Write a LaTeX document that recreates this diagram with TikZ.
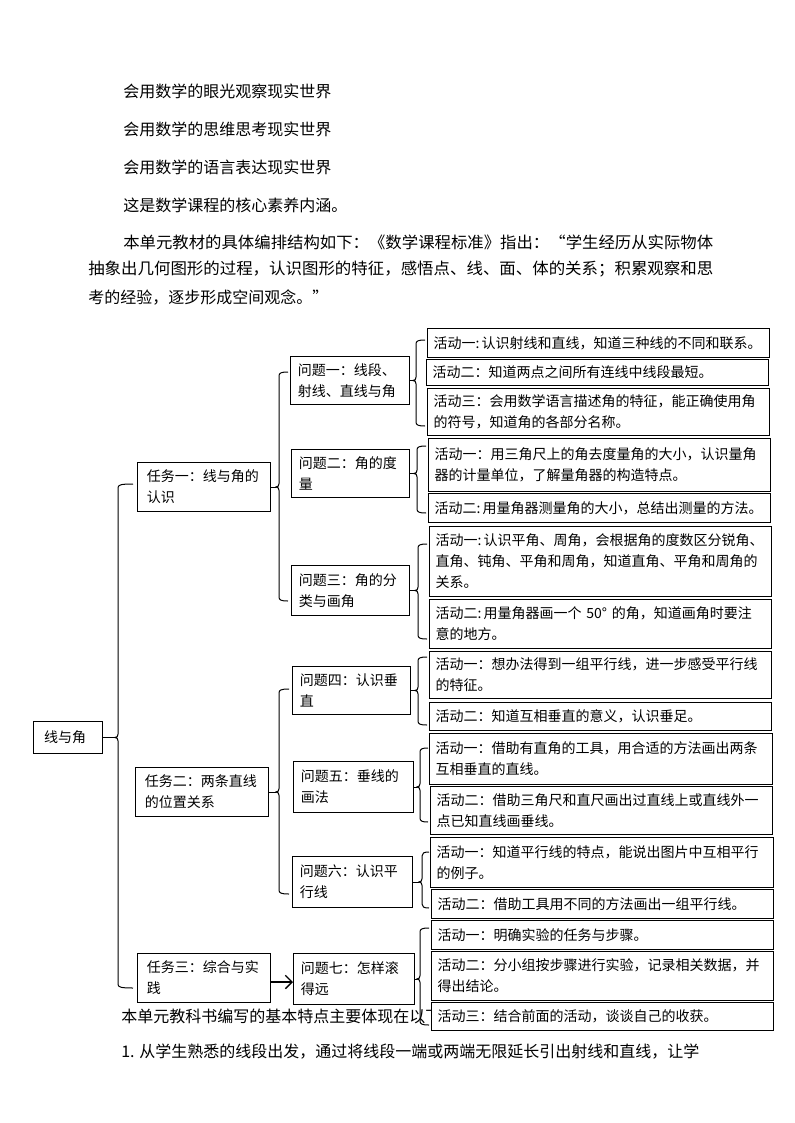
\documentclass[tikz,border=0pt]{standalone}
\usepackage{fontspec}
\setmainfont{Noto Sans CJK SC}
\usepackage{graphicx}
\usetikzlibrary{arrows.meta}
\tikzset{
  box/.style={draw=black, line width=0.75pt, fill=white, anchor=north west, align=left, inner ysep=0pt, font=\fontsize{10.5pt}{15.75pt}\selectfont},
  body/.style={anchor=west, inner sep=0pt, font=\fontsize{12pt}{18pt}\selectfont},
  brkline/.style={line width=0.75pt, line join=round},
  bigarrow/.style={line width=1.6pt, -{Straight Barb[length=5pt,width=10pt,line width=1pt]}},
}
\newcommand\nbox[7][4.5]{%
  \pgfmathsetmacro\nboxw{0.75*(#5-#3)-2*#1}%
  \pgfmathsetmacro\nboxh{0.75*(#6-#4)}%
  \node[box, inner xsep=#1pt, text width=\nboxw pt, minimum height=\nboxh pt] (#2) at (#3,#4) {#7};%
}
\newcommand\nbrace[5]{% parent, x, top, bottom, end x
  \coordinate (bkx) at (#2,0);
  \coordinate (bkm) at (#1.east -| bkx);
  \draw[brkline] (#5,#3) .. controls (#2+2,#3) and (#2,#3+1) .. (#2,#3+4)
    -- ([yshift=2.5pt]bkm) .. controls ([yshift=0.8pt]bkm) and ([xshift=-0.8pt]bkm) .. ([xshift=-2.5pt]bkm)
    .. controls ([xshift=-0.8pt]bkm) and ([yshift=-0.8pt]bkm) .. ([yshift=-2.5pt]bkm)
    -- (#2,#4-4) .. controls (#2,#4-1) and (#2+2,#4) .. (#5,#4);
  \draw[brkline] (#1.east) -- ([xshift=-2.5pt]bkm);
}
\begin{document}
\begin{tikzpicture}[x=0.75pt,y=-0.75pt]
\useasboundingbox[fill=white] (0,0) rectangle (794,1123);
% body text
\node[body] (l1) at (123,91) {会用数学的眼光观察现实世界};
\node[body] (l2) at (123,129) {会用数学的思维思考现实世界};
\node[body] (l3) at (123,167) {会用数学的语言表达现实世界};
\node[body] (l4) at (123,205) {这是数学课程的核心素养内涵。};
\node[body] (l5) at (123,242) {\resizebox{442.5pt}{\height}{本单元教材的具体编排结构如下：《数学课程标准》指出：“学生经历从实际物体}};
\node[body] (l6) at (88,269) {\resizebox{468.75pt}{\height}{抽象出几何图形的过程，认识图形的特征，感悟点、线、面、体的关系；积累观察和思}};
\node[body] (l7) at (88,297) {考的经验，逐步形成空间观念。”};
\node[body] (l8) at (121,1016) {本单元教科书编写的基本特点主要体现在以下};
\node[body] (l9) at (121,1052) {1. 从学生熟悉的线段出发，通过将线段一端或两端无限延长引出射线和直线，让学};
% root and tasks
\nbox[8]{root}{33}{721}{102}{753}{线与角}
\nbox[7]{t1}{137}{462}{270}{511}{任务一：线与角的\\认识}
\nbox[7]{t2}{135}{767}{268}{816}{任务二：两条直线\\的位置关系}
\nbox[7]{t3}{137}{953}{270}{1002}{任务三：综合与实\\践}
% questions
\nbox[5.5]{q1}{290}{356}{409}{404}{问题一：线段、\\射线、直线与角}
\nbox[5.5]{q2}{291}{449}{409}{497}{问题二：角的度\\量}
\nbox[5.5]{q3}{291}{565}{409}{615}{问题三：角的分\\类与画角}
\nbox[5.5]{q4}{292}{666}{410}{714}{问题四：认识垂\\直}
\nbox[5.5]{q5}{293}{761}{413}{812}{问题五：垂线的\\画法}
\nbox[5.5]{q6}{292}{856}{412}{907}{问题六：认识平\\行线}
\nbox[5.5]{q7}{293}{953}{414}{1004}{问题七：怎样滚\\得远}
% activities
\nbox{a11}{427}{328}{769}{357}{活动一:\,认识射线和直线，知道三种线的不同和联系。}
\nbox{a12}{426}{359}{768}{385}{活动二：知道两点之间所有连线中线段最短。}
\nbox{a13}{427}{388}{769}{435}{活动三：会用数学语言描述角的特征，能正确使用角\\的符号，知道角的各部分名称。}
\nbox{a21}{428}{438}{770}{491}{活动一：用三角尺上的角去度量角的大小，认识量角\\器的计量单位，了解量角器的构造特点。}
\nbox{a22}{428}{493}{770}{522}{活动二:\,用量角器测量角的大小，总结出测量的方法。}
\nbox{a31}{429}{526}{771}{596}{活动一:\,认识平角、周角，会根据角的度数区分锐角、\\直角、钝角、平角和周角，知道直角、平角和周角的\\关系。}
\nbox{a32}{429}{599}{771}{648}{活动二:\,用量角器画一个 50°\ 的角，知道画角时要注\\意的地方。}
\nbox{a41}{429}{651}{771}{698}{活动一：想办法得到一组平行线，进一步感受平行线\\的特征。}
\nbox{a42}{429}{702}{771}{730}{活动二：知道互相垂直的意义，认识垂足。}
\nbox{a51}{429}{733}{772}{784}{活动一：借助有直角的工具，用合适的方法画出两条\\互相垂直的直线。}
\nbox{a52}{430}{786}{772}{834}{活动二：借助三角尺和直尺画出过直线上或直线外一\\点已知直线画垂线。}
\nbox{a61}{430}{837}{773}{887}{活动一：知道平行线的特点，能说出图片中互相平行\\的例子。}
\nbox{a62}{431}{889}{773}{918}{活动二：借助工具用不同的方法画出一组平行线。}
\nbox{a71}{431}{920}{773}{949}{活动一：明确实验的任务与步骤。}
\nbox{a72}{431}{951}{773}{1000}{活动二：分小组按步骤进行实验，记录相关数据，并\\得出结论。}
\nbox{a73}{431}{1002}{773}{1030}{活动三：结合前面的活动，谈谈自己的收获。}
% brackets
\nbrace{root}{118}{484}{988}{133}
\nbrace{t1}{279}{372}{601}{288}
\nbrace{t2}{279}{689}{894}{289}
\nbrace{q1}{416}{340}{426}{425}
\nbrace{q2}{417}{446}{513}{426}
\nbrace{q3}{418}{544}{639}{427}
\nbrace{q4}{418}{657}{725}{427}
\nbrace{q5}{420}{748}{822}{428}
\nbrace{q6}{422}{852}{908}{429}
\nbrace{q7}{420}{928}{1025}{429}
% arrow from task three to question seven
\coordinate (arrs) at ([yshift=-3pt]t3.east);
\draw[bigarrow] (arrs) -- (arrs -| q7.west);
\end{tikzpicture}
\end{document}
